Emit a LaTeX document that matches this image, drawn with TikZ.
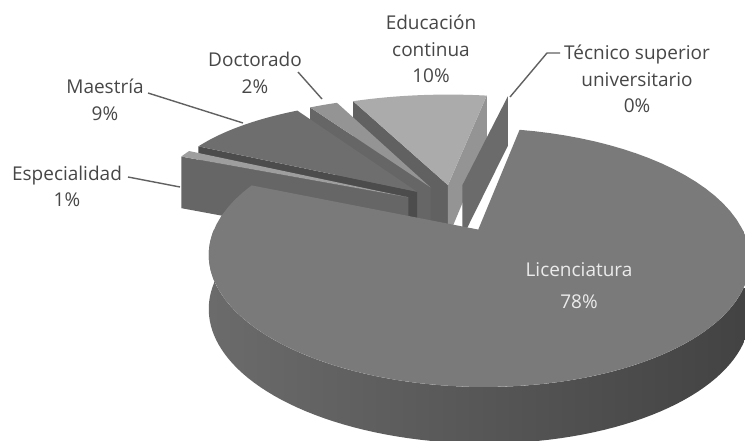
\documentclass[tikz,border=0pt]{standalone}
\usepackage{fontspec}
\setmainfont{Open Sans}
\begin{document}
\begin{tikzpicture}[x=1pt,y=-1pt,
  declare function={
    pxl(\u,\v)=455+255*\u/(1+0.208*\v);
    pyl(\u,\v)=209.5-115*\v/(1+0.208*\v);
    pbl(\u,\v)=pyl(\u,\v)+53-3*\v;
    pxs(\u,\v)=453+259.9*\u/(1+0.1*\v);
    pys(\u,\v)=206.5-117.4*\v/(1+0.208*\v);
    pbs(\u,\v)=pys(\u,\v)+53-3*\v;
  },
  lbl/.style={text=black!72,align=center,inner sep=0pt,font=\fontsize{19}{26.5}\selectfont},
  leader/.style={draw=black!62,line width=1.4pt},
  edutop/.style={fill=black!33},
  eduleft/.style={fill=black!62},
  eduright/.style={fill=black!42},
  tecwall/.style={fill=black!58},
  doctop/.style={fill=black!42},
  docface/.style={fill=black!60},
  maetop/.style={fill=black!57},
  maeface/.style={fill=black!70},
  esptop/.style={fill=black!38},
  espface/.style={fill=black!60},
  lictop/.style={fill=black!52},
  licside/.style={left color=black!58,right color=black!74},
]
% #1 = projection suffix (l or s), #2 #3 = slice offset, ...
\newcommand\slicetop[6]{%
  \path[#6] ({px#1(#2,#3)},{py#1(#2,#3)}) -- plot[domain=#4:#5,samples=70,variable=\t]
    ({px#1(#2+cos(\t),#3+sin(\t))},{py#1(#2+cos(\t),#3+sin(\t))}) -- cycle;}
\newcommand\sliceface[5]{%
  \path[#5] ({px#1(#2,#3)},{py#1(#2,#3)})
    -- ({px#1(#2+cos(#4),#3+sin(#4))},{py#1(#2+cos(#4),#3+sin(#4))})
    -- ({px#1(#2+cos(#4),#3+sin(#4))},{pb#1(#2+cos(#4),#3+sin(#4))})
    -- ({px#1(#2,#3)},{pb#1(#2,#3)}) -- cycle;}
\newcommand\sliceside[6]{%
  \path[#6] plot[domain=#4:#5,samples=90,variable=\t]
    ({px#1(#2+cos(\t),#3+sin(\t))},{py#1(#2+cos(\t),#3+sin(\t))})
    -- plot[domain=#5:#4,samples=90,variable=\t]
    ({px#1(#2+cos(\t),#3+sin(\t))},{pb#1(#2+cos(\t),#3+sin(\t))}) -- cycle;}
\useasboundingbox[fill=white] (0,0) rectangle (745,441);
% Educacion continua
\sliceface{s}{-0.0199}{0.1890}{114}{eduleft}
\sliceface{s}{-0.0199}{0.1890}{80.5}{eduright}
\slicetop{s}{-0.0199}{0.1890}{80.5}{114}{edutop}
% Tecnico superior universitario (0%)
\sliceface{s}{0.0363}{0.1865}{78.5}{tecwall}
% Doctorado
\sliceface{s}{-0.0880}{0.1684}{121.2}{docface}
\slicetop{s}{-0.0880}{0.1684}{114}{121.2}{doctop}
% Maestria
\sliceface{s}{-0.1399}{0.1286}{153.6}{maeface}
\slicetop{s}{-0.1399}{0.1286}{121.2}{153.6}{maetop}
% Especialidad
\sliceface{s}{-0.1727}{0.0791}{157.2}{espface}
\slicetop{s}{-0.1727}{0.0791}{153.6}{157.2}{esptop}
% Licenciatura
\sliceside{l}{0.0880}{-0.1684}{180}{360}{licside}
\slicetop{l}{0.0880}{-0.1684}{157.2}{438}{lictop}
% labels
\node[lbl] (edu) at (431,49) {Educación\\continua\\10\%};
\node[lbl] (doc) at (255,73) {Doctorado\\2\%};
\node[lbl] (mae) at (105,100) {Maestría\\9\%};
\node[lbl] (esp) at (67,186.5) {Especialidad\\1\%};
\node[lbl] (tec) at (637,79) {Técnico superior\\universitario\\0\%};
\node[lbl,text=black!8,font=\fontsize{19}{32}\selectfont] (lic) at (579,286) {Licenciatura\\78\%};
% leaders
\coordinate (espA) at (128,177); \coordinate (espB) at (180,187);
\coordinate (maeA) at (148,93);  \coordinate (maeB) at (243,123);
\coordinate (docA) at (298,72);  \coordinate (docB) at (322,99);
\coordinate (tecA) at (560,53);  \coordinate (tecK) at (547,53); \coordinate (tecB) at (510,97);
\draw[leader] (espA) -- (espB);
\draw[leader] (maeA) -- (maeB);
\draw[leader] (docA) -- (docB);
\draw[leader] (tecA) -- (tecK) -- (tecB);
\end{tikzpicture}
\end{document}
